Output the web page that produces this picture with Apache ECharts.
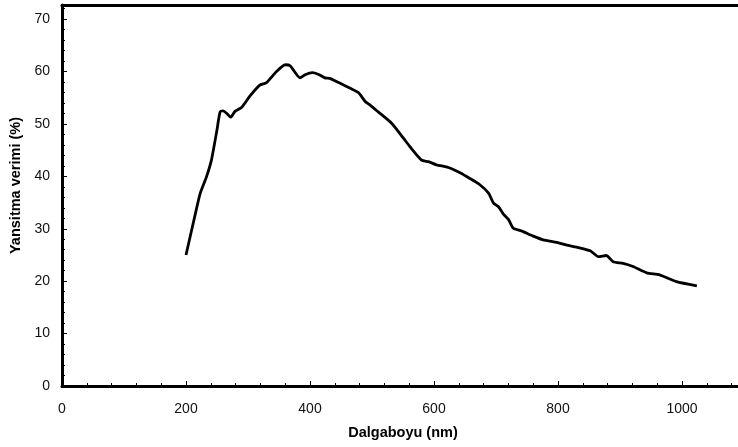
<!DOCTYPE html>
<html>
<head>
<meta charset="utf-8">
<script src="https://cdn.jsdelivr.net/npm/echarts@6/dist/echarts.min.js"></script>
<style>html,body{margin:0;padding:0;background:#fff;overflow:hidden}#c{width:738px;height:447px}</style>
</head>
<body>
<div id="c"></div>
<script>
var wavelength = [200, 214, 223, 233, 241, 250, 255, 260, 266, 272, 279, 290, 303, 319, 330, 346, 360, 368, 384, 392, 404, 413, 424, 432, 448, 465, 478, 489, 497, 510, 532, 550, 561, 580, 591, 604, 623, 642, 658, 674, 688, 696, 704, 712, 720, 728, 741, 760, 776, 798, 814, 830, 852, 865, 878, 889, 905, 921, 943, 964, 991, 1024];
var reflectance = [25.0, 32.3, 36.8, 39.9, 43.1, 48.9, 52.3, 52.5, 52.0, 51.3, 52.4, 53.2, 55.3, 57.4, 57.9, 60.0, 61.3, 61.1, 58.8, 59.4, 59.8, 59.5, 58.8, 58.7, 57.8, 56.8, 56.0, 54.3, 53.6, 52.3, 50.1, 47.4, 45.7, 43.1, 42.8, 42.2, 41.7, 40.7, 39.6, 38.4, 36.8, 34.9, 34.2, 32.8, 31.8, 30.1, 29.6, 28.6, 27.9, 27.4, 26.9, 26.5, 25.8, 24.7, 24.9, 23.7, 23.4, 22.8, 21.6, 21.2, 19.9, 19.1];
var xTitle = 'Dalgaboyu (nm)';
var yTitle = 'Yansitma verimi (%)';

var points = wavelength.map(function (w, i) { return [w, reflectance[i]]; });
var font = 'Liberation Sans, Arial, sans-serif';
var chart = echarts.init(document.getElementById('c'), null, {renderer: 'canvas'});
chart.setOption({
  animation: false,
  backgroundColor: '#fff',
  grid: {left: 62, top: 5, width: 682, height: 381, containLabel: false, outerBoundsMode: 'none'},
  xAxis: [{
    type: 'value', min: 0, max: 1100, interval: 200,
    position: 'bottom',
    name: xTitle, nameLocation: 'middle', nameGap: 39,
    nameTextStyle: {fontFamily: font, fontSize: 14.5, fontWeight: 'bold', color: '#000'},
    axisLine: {show: true, onZero: false, lineStyle: {color: '#000', width: 3}},
    axisTick: {show: true, inside: true, length: 5, lineStyle: {color: '#000', width: 1}},
    minorTick: {show: true, splitNumber: 5, length: 3, lineStyle: {color: '#000', width: 1}},
    axisLabel: {fontFamily: font, fontSize: 14, color: '#111', margin: 16,
      formatter: function (v) { return v % 200 === 0 && v <= 1000 ? String(v) : ''; }},
    splitLine: {show: false}
  }, {
    type: 'value', min: 0, max: 1100, position: 'top',
    axisLine: {show: true, onZero: false, lineStyle: {color: '#000', width: 3}},
    axisTick: {show: false}, axisLabel: {show: false}, splitLine: {show: false}
  }],
  yAxis: {
    type: 'value', min: 0, max: 72.7, interval: 10,
    name: yTitle, nameLocation: 'middle', nameGap: 35,
    nameTextStyle: {fontFamily: font, fontSize: 14.5, fontWeight: 'bold', color: '#000', padding: [0, 0, 0, 20]},
    axisLine: {show: true, onZero: false, lineStyle: {color: '#000', width: 3}},
    axisTick: {show: true, inside: true, length: 5, lineStyle: {color: '#000', width: 1}},
    minorTick: {show: true, splitNumber: 5, length: 3, lineStyle: {color: '#000', width: 1}},
    axisLabel: {fontFamily: font, fontSize: 14, color: '#111', margin: 12,
      formatter: function (v) { return v % 10 === 0 ? String(v) : ''; }},
    splitLine: {show: false}
  },
  series: [{
    type: 'line', xAxisIndex: 0, data: points, showSymbol: false, smooth: 0.2,
    lineStyle: {color: '#000', width: 2.8}
  }]
});
</script>
</body>
</html>
